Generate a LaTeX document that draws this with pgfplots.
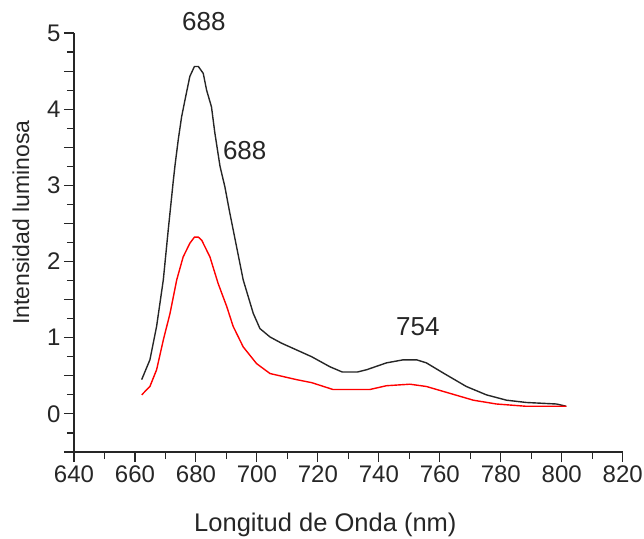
\documentclass[border=0pt]{standalone}
\usepackage{fontspec}
\setmainfont{Liberation Sans}
\usepackage{pgfplots}
\pgfplotsset{compat=1.18}
\begin{document}
\begin{tikzpicture}
\begin{axis}[
  name=ax,
  scale only axis,
  width=548.7pt, height=419pt,
  xmin=640, xmax=820, ymin=-0.5, ymax=5,
  axis lines*=left,
  axis line style={line width=1.3pt, color=black!85},
  clip=false,
  xtick={640,660,...,820},
  minor xtick={650,670,...,810},
  ytick={0,1,...,5},
  extra y ticks={-0.5,0.5,1.5,2.5,3.5,4.5},
  extra y tick labels={},
  minor ytick={-0.25,0.25,0.75,1.25,1.75,2.25,2.75,3.25,3.75,4.25,4.75},
  tick align=outside,
  major tick length=10pt,
  minor tick length=7pt,
  every tick/.style={line width=1.1pt, color=black!85},
  /pgf/number format/assume math mode=true,
  /pgf/number format/1000 sep={},
  ticklabel style={font=\fontsize{24}{28}\selectfont, color=black!85},
  xlabel={Longitud de Onda (nm)},
  ylabel={Intensidad luminosa},
  xlabel style={font=\fontsize{25.5}{30}\selectfont, color=black!85, yshift=-24pt, xshift=-23pt},
  ylabel style={font=\fontsize{23}{28}\selectfont, color=black!85, yshift=-9pt, xshift=20pt},
]
\addplot[black!85, line width=1.4pt] coordinates {
(662.2,0.45) (664.9,0.71) (667.1,1.15) (669.3,1.76) (670.9,2.41) (672.6,3.07)
(673.1,3.25) (674.2,3.6) (675.3,3.9) (676.4,4.12) (678,4.43) (679.5,4.56)
(680.8,4.56) (682.4,4.47) (683.5,4.25) (685.1,4.03) (686.2,3.69) (687.9,3.25)
(689.5,2.98) (691.1,2.64) (693.3,2.2) (695.5,1.76) (698.8,1.32) (701,1.12)
(704.3,1.01) (708,0.93) (713,0.84) (718,0.75) (723.9,0.62) (728,0.55)
(733,0.55) (736,0.58) (742.5,0.67) (748,0.71) (752.4,0.71) (755.6,0.67)
(761,0.54) (768.7,0.36) (775.3,0.25) (781.9,0.18) (788.4,0.15) (798.3,0.13)
(801.5,0.1)
};
\addplot[red, line width=1.4pt] coordinates {
(662.2,0.25) (664.9,0.36) (667.1,0.58) (669.3,0.97) (671.5,1.32) (673.7,1.76)
(675.8,2.06) (678,2.24) (679.5,2.32) (680.8,2.32) (681.9,2.28) (684.6,2.06)
(687.3,1.71) (690.1,1.41) (692.2,1.15) (695.5,0.88) (699.9,0.66) (704.3,0.53)
(713,0.45) (718,0.41) (725,0.32) (737,0.32) (742.5,0.37) (750.2,0.39)
(755.6,0.36) (763.3,0.27) (771,0.18) (778.6,0.13) (788.4,0.1) (801.5,0.1)
};
\node[font=\fontsize{26}{30}\selectfont, color=black!85] at (axis cs:682.6,5.15) {688};
\node[font=\fontsize{26}{30}\selectfont, color=black!85] at (axis cs:696,3.46) {688};
\node[font=\fontsize{26}{30}\selectfont, color=black!85] at (axis cs:752.8,1.14) {754};
\end{axis}
\pgfresetboundingbox
\useasboundingbox ([shift={(-74pt,-86pt)}]ax.south west) rectangle ([shift={(570pt,452pt)}]ax.south west);
\end{tikzpicture}
\end{document}
